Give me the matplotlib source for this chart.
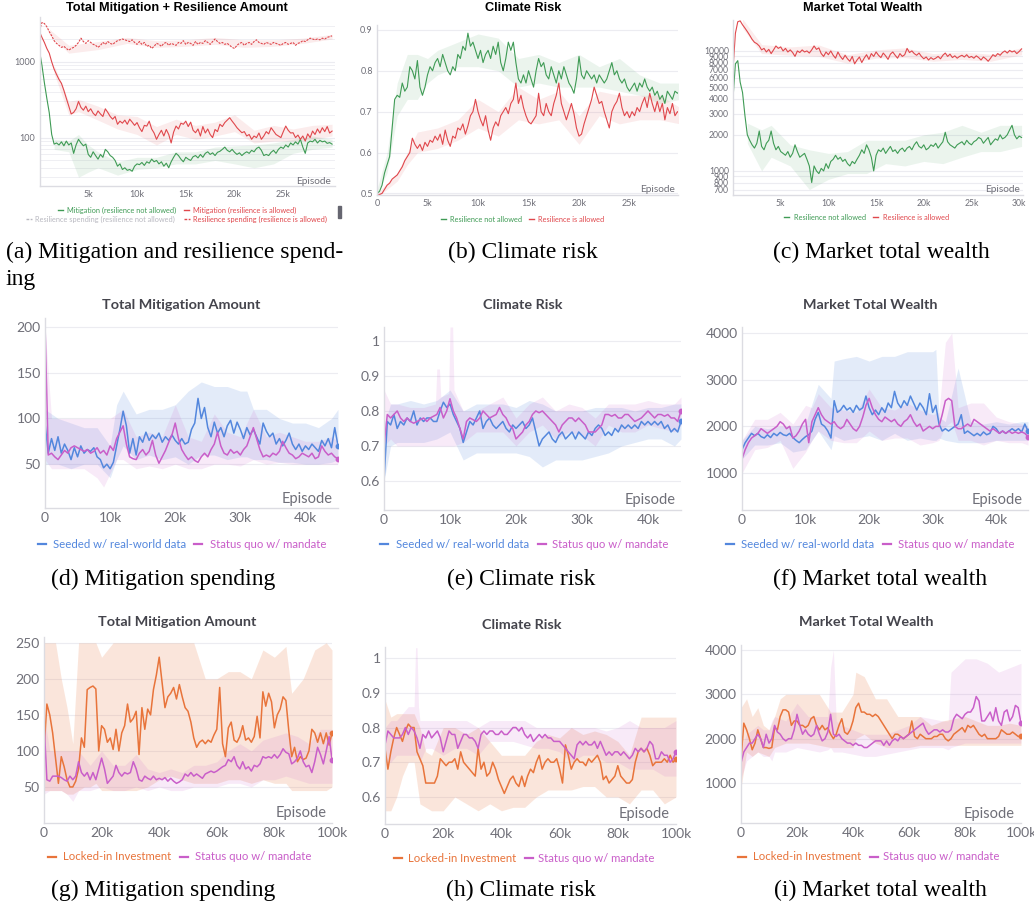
import numpy as np
import matplotlib
matplotlib.use('Agg')
import matplotlib.pyplot as plt
from matplotlib.lines import Line2D
from matplotlib.ticker import FixedLocator, NullFormatter, FuncFormatter

W, H = 1034, 909

# ---------------- data ----------------
# row 1: 0.25k episode grid
a_green = [1400, 900, 530, 330, 213, 110, 82, 85, 80, 88, 78, 90, 80, 85, 62, 80, 95, 85, 78, 82,
           60, 55, 65, 58, 52, 60, 55, 70, 65, 58, 55, 50, 42, 45, 38, 40, 37, 38, 36, 42,
           45, 44, 47, 43, 48, 46, 52, 48, 50, 45, 48, 42, 46, 40, 48, 55, 62, 58, 52, 48,
           55, 52, 50, 56, 58, 54, 60, 55, 62, 65, 60, 63, 58, 64, 66, 70, 75, 68, 65, 70,
           64, 60, 63, 58, 62, 65, 62, 68, 65, 72, 75, 68, 58, 60, 58, 64, 68, 62, 70, 75,
           72, 80, 75, 85, 80, 88, 82, 95, 75, 62, 85, 90, 88, 95, 85, 92, 88, 90, 84, 86, 82]
a_red = [2500, 2100, 1800, 1500, 1300, 1000, 800, 680, 585, 520, 420, 330, 261, 205, 215, 240, 300, 250, 230, 260,
         220, 240, 210, 195, 225, 205, 190, 240, 215, 190, 175, 190, 150, 165, 155, 170, 150, 175, 160, 145,
         158, 135, 120, 145, 142, 165, 130, 115, 95, 110, 125, 105, 128, 110, 85, 118, 142, 130, 155, 150,
         165, 140, 160, 125, 116, 130, 105, 140, 115, 130, 110, 100, 128, 120, 150, 140, 158, 170, 183, 165,
         150, 135, 125, 116, 120, 105, 110, 95, 105, 100, 115, 95, 105, 120, 112, 135, 122, 110, 105, 100,
         120, 142, 125, 115, 116, 100, 108, 95, 105, 90, 112, 100, 122, 110, 130, 115, 135, 120, 140, 115, 122]
a_red_res = [2600, 3300, 3200, 2900, 2500, 2200, 1900, 1750, 1650, 1550, 1600, 1500, 1420, 1500, 1550, 1650, 1800, 2050, 1850, 1750,
             1900, 1800, 1700, 1650, 1550, 1650, 1800, 1700, 1850, 1750, 1700, 1800, 1900, 1950, 2000, 1950, 1900, 1850, 1950, 1800,
             1700, 1850, 1700, 1800, 1600, 1650, 1500, 1600, 1750, 1700, 1600, 1750, 1800, 1650, 1750, 1700, 1650, 1800, 1750, 1900,
             1700, 1800, 1750, 1650, 1850, 1700, 1800, 1750, 1900, 1800, 1700, 1850, 2000, 1850, 1750, 1800, 1700, 1750, 1650, 1550,
             1500, 1650, 1750, 1800, 1650, 1750, 1800, 1700, 1850, 1950, 1800, 1750, 1700, 1800, 1750, 1700, 1800, 1750, 1700, 1650,
             1750, 1800, 1700, 1750, 1800, 1650, 1750, 1800, 1900, 1850, 1950, 2050, 2000, 1950, 2000, 1950, 2050, 2000, 2100, 2150, 2200]
a_green_bx = [1.5, 3, 4, 5, 6, 8, 10, 12, 14, 16, 18, 20, 22, 24, 26, 28, 30]
a_green_lo = [70, 65, 30, 35, 40, 32, 38, 40, 45, 45, 50, 45, 40, 45, 62, 70, 75]
a_green_hi = [95, 90, 110, 80, 65, 48, 55, 55, 65, 65, 75, 78, 80, 85, 95, 105, 95]
a_red_bx = [1.5, 3, 4, 6, 8, 10, 12, 14, 16, 18, 20, 22, 24, 26, 28, 30]
a_red_lo = [700, 200, 220, 170, 130, 110, 80, 110, 95, 105, 120, 85, 90, 90, 95, 105]
a_red_hi = [900, 300, 320, 260, 200, 190, 140, 175, 145, 160, 200, 125, 145, 130, 145, 150]
a_res_bx = [1, 3, 6, 9, 12, 15, 18, 21, 24, 27, 30]
a_res_lo = [2300, 1300, 1450, 1750, 1550, 1600, 1700, 1550, 1600, 1750, 2000]
a_res_hi = [2700, 1650, 1850, 2100, 1900, 1950, 2100, 1950, 1950, 2050, 2300]

b_green = [0.500, 0.505, 0.52, 0.55, 0.57, 0.59, 0.66, 0.73, 0.74, 0.735, 0.77, 0.75, 0.76, 0.81, 0.80, 0.78, 0.825, 0.76, 0.74, 0.76,
           0.79, 0.81, 0.80, 0.82, 0.83, 0.81, 0.84, 0.82, 0.80, 0.79, 0.81, 0.80, 0.84, 0.83, 0.86, 0.85, 0.892, 0.86, 0.87, 0.85,
           0.83, 0.85, 0.82, 0.84, 0.85, 0.83, 0.86, 0.84, 0.87, 0.82, 0.80, 0.83, 0.87, 0.85, 0.87, 0.82, 0.78, 0.77, 0.79, 0.77,
           0.80, 0.78, 0.76, 0.80, 0.83, 0.81, 0.82, 0.79, 0.78, 0.81, 0.79, 0.77, 0.80, 0.78, 0.81, 0.79, 0.77, 0.76, 0.745, 0.78,
           0.835, 0.79, 0.78, 0.80, 0.79, 0.78, 0.79, 0.77, 0.79, 0.78, 0.77, 0.78, 0.80, 0.82, 0.79, 0.80, 0.78, 0.77, 0.78, 0.76,
           0.75, 0.76, 0.77, 0.75, 0.77, 0.76, 0.78, 0.76, 0.75, 0.76, 0.74, 0.75, 0.73, 0.74, 0.72, 0.75, 0.74, 0.73, 0.75, 0.745, 0.75]
b_red = [0.495, 0.497, 0.50, 0.51, 0.52, 0.525, 0.535, 0.54, 0.545, 0.555, 0.565, 0.58, 0.59, 0.60, 0.635, 0.62, 0.61, 0.62, 0.605, 0.625,
         0.615, 0.63, 0.625, 0.64, 0.63, 0.645, 0.62, 0.655, 0.63, 0.615, 0.64, 0.635, 0.66, 0.655, 0.67, 0.645, 0.665, 0.69, 0.70, 0.73,
         0.70, 0.68, 0.665, 0.69, 0.655, 0.63, 0.66, 0.675, 0.665, 0.69, 0.70, 0.71, 0.695, 0.72, 0.73, 0.77, 0.72, 0.74, 0.71, 0.69,
         0.675, 0.67, 0.68, 0.69, 0.745, 0.70, 0.69, 0.72, 0.70, 0.69, 0.72, 0.74, 0.77, 0.72, 0.70, 0.68, 0.70, 0.72, 0.695, 0.66,
         0.64, 0.645, 0.67, 0.69, 0.71, 0.73, 0.76, 0.74, 0.72, 0.725, 0.70, 0.68, 0.66, 0.70, 0.715, 0.725, 0.745, 0.71, 0.69, 0.70,
         0.685, 0.70, 0.69, 0.71, 0.70, 0.72, 0.735, 0.71, 0.745, 0.72, 0.70, 0.725, 0.70, 0.72, 0.68, 0.71, 0.695, 0.72, 0.69, 0.70, 0.695]
b_green_bx = [0, 1, 2, 3, 4, 5, 6, 8, 10, 12, 14, 16, 18, 20, 22, 24, 26, 28, 30]
b_green_lo = [0.50, 0.55, 0.69, 0.73, 0.73, 0.77, 0.79, 0.81, 0.81, 0.80, 0.76, 0.77, 0.76, 0.76, 0.76, 0.75, 0.74, 0.72, 0.73]
b_green_hi = [0.51, 0.60, 0.77, 0.84, 0.84, 0.83, 0.85, 0.87, 0.89, 0.88, 0.83, 0.84, 0.82, 0.84, 0.81, 0.83, 0.79, 0.77, 0.77]
b_red_bx = [0, 2, 3, 4, 6, 8, 10, 12, 14, 16, 18, 20, 22, 24, 26, 28, 30]
b_red_lo = [0.49, 0.53, 0.57, 0.60, 0.61, 0.63, 0.66, 0.64, 0.68, 0.67, 0.68, 0.62, 0.69, 0.67, 0.68, 0.68, 0.67]
b_red_hi = [0.50, 0.55, 0.60, 0.65, 0.66, 0.68, 0.73, 0.70, 0.76, 0.73, 0.75, 0.69, 0.75, 0.74, 0.74, 0.74, 0.71]

c_green = [4000, 7800, 8300, 5500, 4500, 2900, 2000, 1800, 1650, 1550, 1700, 2150, 1600, 1500, 1700, 1800, 2150, 1700, 1500, 1600,
           1450, 1400, 1350, 1450, 1300, 1400, 1650, 1450, 1300, 1350, 1400, 1250, 1100, 800, 1100, 1000, 950, 1050, 1000, 1150,
           1050, 1200, 1250, 1350, 1250, 1300, 1200, 1250, 1150, 1100, 1200, 1150, 1250, 1350, 1500, 1400, 1650, 1500, 1300, 1000,
           1350, 1500, 1450, 1550, 1400, 1500, 1600, 1450, 1500, 1400, 1500, 1550, 1450, 1550, 1600, 1500, 1650, 1750, 1600, 1550,
           1650, 1500, 1550, 1650, 1600, 1700, 1550, 1650, 1750, 2100, 1750, 1650, 1600, 1550, 1650, 1700, 1750, 1650, 1800, 1700,
           1650, 1750, 1800, 1900, 1850, 1700, 1800, 1900, 1650, 1750, 1850, 1800, 2000, 1850, 1900, 2000, 2200, 2400, 2000, 1850, 1950, 1900]
c_red = [7000, 14000, 17500, 17800, 16500, 15500, 14500, 13500, 12500, 11800, 11500, 11000, 10200, 10500, 9800, 10300, 9500, 10200, 11000, 10500,
         10800, 10000, 10500, 9800, 10200, 9700, 9000, 10000, 9700, 10200, 9800, 10000, 9600, 10200, 11000, 10300, 10600, 9500, 9000, 9800,
         9300, 10000, 9200, 8700, 9800, 9000, 8500, 9200, 8600, 8200, 9000, 7800, 8400, 8900, 8000, 8700, 9300, 8500, 9500, 9000,
         9800, 9200, 8800, 9600, 9100, 8500, 9400, 9800, 9200, 8700, 9500, 9000, 9300, 10500, 9700, 10000, 9500, 9200, 9600, 9000,
         8600, 8900, 8400, 8800, 8500, 8700, 9000, 8600, 9200, 9600, 9000, 9400, 8800, 9100, 8700, 9000, 9200, 8900, 9300, 8800,
         9000, 8700, 9100, 8800, 8400, 8900, 8600, 8200, 8700, 9300, 9000, 9500, 9200, 9700, 10000, 9600, 10100, 9800, 10000, 9500, 9900, 10400]
c_green_bx = [1.5, 3, 4, 6, 8, 10, 12, 14, 16, 18, 20, 22, 24, 26, 28, 30.25]
c_green_lo = [1700, 1000, 1300, 1100, 700, 850, 950, 950, 1150, 1100, 1200, 1150, 1300, 1450, 1450, 1600]
c_green_hi = [2500, 2200, 2400, 1650, 1500, 1400, 1450, 1800, 1800, 1800, 2000, 2100, 2400, 2100, 2400, 2400]
c_red_bx = [1, 3, 6, 9, 12, 15, 18, 21, 24, 27, 30.25]
c_red_lo = [15500, 9500, 9200, 9000, 7900, 8700, 8800, 8200, 8500, 8200, 9300]
c_red_hi = [18500, 11300, 10800, 11200, 9300, 10200, 10600, 9500, 9800, 9400, 10600]

# row 2: 0.5k episode grid, 0..45k
d_blue = [95, 62, 78, 65, 80, 62, 72, 65, 55, 68, 58, 70, 62, 66, 64, 68, 58, 55, 46, 50,
          45, 52, 70, 88, 108, 92, 62, 78, 60, 80, 74, 85, 76, 82, 78, 84, 74, 80, 76, 82,
          76, 72, 78, 72, 74, 88, 95, 122, 100, 112, 90, 80, 96, 84, 90, 80, 92, 98, 84, 96,
          88, 78, 90, 82, 88, 80, 72, 95, 86, 80, 84, 72, 78, 70, 76, 84, 72, 66, 72, 64,
          70, 66, 72, 68, 64, 76, 70, 78, 68, 90, 70]
d_mag = [205, 60, 62, 58, 55, 60, 65, 62, 68, 70, 68, 66, 64, 66, 62, 64, 68, 62, 65, 60,
         70, 65, 78, 85, 92, 72, 58, 56, 55, 62, 66, 60, 64, 76, 60, 51, 58, 65, 74, 82,
         95, 78, 66, 60, 55, 58, 54, 52, 58, 62, 58, 66, 72, 85, 70, 62, 60, 66, 62, 64,
         60, 66, 70, 80, 90, 78, 66, 58, 60, 58, 62, 60, 64, 75, 68, 62, 60, 56, 58, 62,
         60, 58, 62, 56, 58, 70, 64, 60, 62, 58, 56]
d_blue_bx = [0, 2, 4, 6, 8, 10, 11, 12, 14, 16, 18, 20, 22, 24, 26, 28, 30, 31, 32, 34, 36, 38, 40, 42, 44, 45]
d_blue_lo = [50, 50, 45, 50, 50, 35, 55, 70, 55, 60, 55, 58, 50, 60, 60, 55, 58, 58, 55, 55, 52, 52, 50, 50, 52, 55]
d_blue_hi = [110, 100, 95, 90, 90, 70, 115, 130, 105, 110, 110, 115, 130, 140, 135, 135, 130, 130, 110, 110, 100, 95, 95, 90, 100, 110]
d_mag_bx = [0, 1, 2, 4, 6, 8, 9, 10, 11, 12, 14, 16, 18, 20, 22, 24, 26, 28, 30, 32, 34, 36, 38, 40, 42, 44, 45]
d_mag_lo = [55, 45, 45, 45, 45, 35, 25, 40, 55, 55, 45, 48, 45, 50, 45, 45, 50, 50, 48, 55, 50, 52, 50, 50, 50, 50, 50]
d_mag_hi = [200, 100, 100, 100, 100, 100, 100, 100, 105, 110, 80, 85, 80, 115, 80, 75, 105, 85, 80, 110, 80, 85, 80, 75, 75, 80, 75]

e_blue = [0.60, 0.77, 0.76, 0.79, 0.75, 0.77, 0.76, 0.78, 0.77, 0.80, 0.76, 0.78, 0.77, 0.78, 0.78, 0.77, 0.77, 0.80, 0.825, 0.81,
          0.82, 0.79, 0.77, 0.75, 0.71, 0.74, 0.77, 0.76, 0.78, 0.80, 0.75, 0.77, 0.78, 0.76, 0.75, 0.76, 0.77, 0.75, 0.74, 0.76,
          0.75, 0.76, 0.77, 0.75, 0.76, 0.78, 0.74, 0.70, 0.72, 0.73, 0.74, 0.72, 0.71, 0.73, 0.74, 0.72, 0.73, 0.74, 0.72, 0.74,
          0.73, 0.72, 0.74, 0.73, 0.75, 0.76, 0.75, 0.73, 0.74, 0.73, 0.75, 0.74, 0.76, 0.75, 0.76, 0.75, 0.76, 0.75, 0.77, 0.76,
          0.77, 0.76, 0.77, 0.76, 0.77, 0.75, 0.76, 0.74, 0.75, 0.74, 0.77]
e_mag = [0.70, 0.79, 0.78, 0.79, 0.80, 0.78, 0.77, 0.78, 0.77, 0.765, 0.77, 0.775, 0.78, 0.77, 0.78, 0.785, 0.79, 0.81, 0.78, 0.80,
         0.835, 0.80, 0.78, 0.75, 0.72, 0.77, 0.78, 0.775, 0.77, 0.78, 0.80, 0.79, 0.78, 0.785, 0.79, 0.81, 0.79, 0.78, 0.76, 0.75,
         0.72, 0.73, 0.74, 0.76, 0.77, 0.79, 0.80, 0.795, 0.80, 0.79, 0.78, 0.77, 0.76, 0.74, 0.76, 0.77, 0.78, 0.78, 0.77, 0.78,
         0.77, 0.76, 0.74, 0.74, 0.74, 0.75, 0.76, 0.79, 0.79, 0.785, 0.79, 0.78, 0.78, 0.79, 0.79, 0.78, 0.77, 0.775, 0.78, 0.79,
         0.80, 0.79, 0.78, 0.79, 0.79, 0.785, 0.79, 0.78, 0.78, 0.77, 0.80]
e_blue_bx = [0, 1, 2, 4, 6, 8, 10, 12, 14, 16, 18, 20, 22, 24, 26, 28, 30, 32, 34, 36, 38, 40, 42, 44, 45]
e_blue_lo = [0.60, 0.70, 0.71, 0.71, 0.71, 0.72, 0.74, 0.66, 0.68, 0.68, 0.68, 0.68, 0.67, 0.64, 0.66, 0.66, 0.66, 0.67, 0.68, 0.70, 0.71, 0.72, 0.72, 0.70, 0.72]
e_blue_hi = [0.76, 0.82, 0.82, 0.83, 0.82, 0.83, 0.86, 0.80, 0.82, 0.82, 0.82, 0.81, 0.83, 0.82, 0.80, 0.80, 0.80, 0.81, 0.81, 0.81, 0.80, 0.81, 0.81, 0.82, 0.82]
e_mag_bx = [0, 1, 2, 4, 6, 7.8, 8, 8.4, 8.6, 9.8, 10, 10.4, 10.6, 12, 14, 16, 18, 20, 22, 24, 26, 28, 30, 32, 34, 36, 38, 40, 42, 44, 45]
e_mag_lo = [0.70, 0.72, 0.70, 0.70, 0.70, 0.70, 0.70, 0.70, 0.70, 0.70, 0.70, 0.70, 0.70, 0.71, 0.74, 0.74, 0.74, 0.70, 0.74, 0.76, 0.72, 0.74, 0.73, 0.70, 0.76, 0.74, 0.74, 0.76, 0.75, 0.74, 0.76]
e_mag_hi = [0.86, 0.82, 0.82, 0.81, 0.81, 0.82, 0.92, 0.92, 0.84, 0.85, 1.04, 1.04, 0.86, 0.80, 0.80, 0.82, 0.84, 0.78, 0.82, 0.84, 0.80, 0.82, 0.81, 0.78, 0.82, 0.82, 0.82, 0.83, 0.82, 0.82, 0.84]

f_blue = [1500, 1650, 1750, 1850, 1800, 1850, 1780, 1750, 1820, 1760, 1850, 1800, 1870, 1820, 1800, 1850, 1760, 1700, 1650, 1720,
          1780, 1820, 1900, 2150, 2300, 2050, 2000, 1900, 1750, 2550, 2300, 2350, 2450, 2350, 2400, 2300, 2450, 2350, 2400, 2650,
          2400, 2250, 2350, 2250, 2400, 2300, 2500, 2400, 2750, 2500, 2400, 2550, 2450, 2650, 2500, 2350, 2500, 2400, 2250, 2700,
          2300, 2450, 2050, 1900, 1950, 1900, 1950, 2000, 2050, 2250, 1850, 1900, 1850, 1800, 1850, 1800, 1880, 1820, 1850, 2000,
          1950, 1850, 1900, 1850, 1900, 1950, 1900, 1950, 1880, 2050, 1900]
f_mag = [1300, 1500, 1650, 1750, 1800, 1850, 1950, 1900, 1850, 1900, 1950, 2000, 2100, 2050, 1950, 2000, 1750, 1800, 1900, 2050,
         2150, 1650, 2100, 2250, 2400, 2250, 2150, 2100, 2050, 2100, 2000, 1950, 2000, 2150, 2050, 1950, 1900, 2000, 2200, 2450,
         2600, 2400, 2250, 2150, 2100, 2200, 2150, 2100, 2150, 2050, 2000, 2100, 2150, 2250, 2100, 2000, 2050, 1900, 1950, 2000,
         1950, 2000, 2000, 2250, 2550, 2600, 2550, 2000, 1950, 1950, 2000, 2050, 2000, 2150, 2100, 2050, 2000, 1950, 1900, 1950,
         1900, 1850, 1900, 1850, 1900, 1850, 1880, 1850, 1880, 1850, 1780]
f_blue_bx = [0, 2, 4, 6, 8, 10, 12, 14, 14.5, 16, 18, 20, 22, 24, 26, 28, 30, 30.5, 31, 32, 34, 36, 38, 40, 42, 44, 45]
f_blue_lo = [1300, 1600, 1600, 1650, 1450, 1500, 1900, 1500, 1800, 1700, 1750, 1800, 1700, 1850, 1700, 1750, 1700, 1700, 1750, 1700, 1650, 1650, 1650, 1700, 1700, 1700, 1700]
f_blue_hi = [1700, 2000, 1950, 2000, 2000, 2050, 2900, 2600, 3400, 3450, 3500, 3400, 3500, 3500, 3600, 3600, 3600, 3650, 2200, 2100, 3250, 2100, 2050, 2100, 2050, 2100, 2100]
f_mag_bx = [0, 2, 4, 6, 8, 10, 11, 12, 14, 16, 18, 20, 22, 24, 26, 28, 30, 31, 32, 33, 34, 36, 38, 40, 42, 44, 45]
f_mag_lo = [1000, 1500, 1550, 1700, 1100, 1450, 1700, 1900, 1700, 1650, 1650, 1900, 1700, 1750, 1750, 1600, 1650, 1700, 2000, 2100, 1700, 1700, 1600, 1700, 1650, 1650, 1600]
f_mag_hi = [1700, 2150, 2150, 2300, 2050, 2450, 2400, 2700, 2400, 2350, 2300, 2800, 2400, 2350, 2500, 2350, 2250, 2300, 3800, 4000, 2400, 2500, 2500, 2200, 2100, 2050, 2000]

# row 3: 1k episode grid, 0..100k
g_orange = [100, 165, 150, 125, 90, 55, 92, 78, 60, 50, 50, 58, 75, 118, 105, 185, 188, 190, 186, 100,
            135, 130, 112, 118, 102, 130, 100, 125, 135, 165, 140, 145, 155, 95, 160, 130, 158, 150, 185, 205,
            230, 195, 160, 175, 180, 188, 172, 192, 175, 160, 155, 140, 118, 105, 112, 115, 110, 115, 112, 122,
            130, 188, 110, 92, 132, 140, 115, 112, 120, 135, 115, 118, 112, 120, 148, 118, 182, 162, 180, 168,
            132, 150, 158, 175, 170, 128, 92, 105, 85, 92, 88, 90, 100, 130, 125, 112, 125, 110, 125, 108, 125]
g_mag = [140, 60, 58, 65, 65, 65, 63, 60, 58, 65, 60, 65, 85, 70, 65, 70, 60, 70, 60, 75,
         90, 75, 55, 60, 65, 80, 70, 65, 70, 68, 70, 85, 75, 60, 58, 65, 62, 60, 65, 60,
         62, 60, 63, 58, 62, 58, 55, 57, 60, 68, 65, 70, 65, 68, 65, 62, 68, 70, 72, 70,
         72, 75, 78, 80, 88, 85, 92, 80, 75, 85, 75, 78, 72, 80, 78, 82, 92, 90, 92, 90,
         95, 90, 95, 103, 98, 96, 82, 85, 90, 100, 85, 78, 80, 70, 85, 105, 95, 82, 100, 120, 88]
g_orange_bx = [0, 2, 4, 6, 8, 10, 12, 14, 16, 18, 20, 24, 28, 32, 36, 40, 44, 48, 52, 56, 60, 64, 68, 72, 76, 80, 84, 86, 90, 94, 98, 100]
g_orange_lo = [45, 45, 45, 45, 40, 40, 45, 50, 50, 55, 45, 45, 45, 45, 50, 60, 65, 60, 55, 55, 55, 60, 60, 55, 60, 55, 55, 45, 45, 45, 45, 50]
g_orange_hi = [250, 250, 250, 200, 160, 110, 250, 250, 250, 250, 230, 250, 250, 250, 250, 250, 250, 250, 250, 200, 200, 210, 210, 200, 240, 230, 245, 180, 200, 240, 250, 240]
g_mag_bx = [0, 2, 4, 6, 8, 10, 12, 16, 20, 24, 28, 32, 36, 40, 44, 48, 52, 56, 60, 64, 68, 72, 76, 80, 84, 88, 92, 96, 100]
g_mag_lo = [40, 45, 45, 45, 40, 30, 45, 45, 50, 45, 45, 50, 45, 50, 45, 45, 50, 50, 50, 55, 55, 50, 60, 60, 65, 60, 55, 55, 55]
g_mag_hi = [150, 100, 100, 100, 100, 100, 100, 80, 100, 80, 80, 95, 75, 70, 75, 70, 80, 80, 85, 100, 110, 100, 115, 120, 125, 120, 110, 130, 130]

h_orange = [0.74, 0.68, 0.73, 0.77, 0.80, 0.78, 0.76, 0.79, 0.81, 0.80, 0.80, 0.73, 0.71, 0.69, 0.64, 0.64, 0.64, 0.64, 0.66, 0.71,
            0.70, 0.69, 0.70, 0.70, 0.71, 0.68, 0.73, 0.70, 0.69, 0.68, 0.67, 0.66, 0.74, 0.68, 0.70, 0.66, 0.67, 0.70, 0.68, 0.65,
            0.63, 0.61, 0.63, 0.65, 0.66, 0.64, 0.63, 0.66, 0.63, 0.66, 0.68, 0.67, 0.70, 0.72, 0.68, 0.70, 0.71, 0.70, 0.70, 0.71,
            0.68, 0.64, 0.75, 0.72, 0.68, 0.70, 0.71, 0.70, 0.70, 0.69, 0.71, 0.70, 0.71, 0.72, 0.70, 0.65, 0.66, 0.64, 0.65, 0.66,
            0.69, 0.66, 0.65, 0.64, 0.64, 0.65, 0.70, 0.73, 0.74, 0.73, 0.74, 0.72, 0.69, 0.70, 0.70, 0.70, 0.71, 0.70, 0.72, 0.70, 0.71]
h_mag = [0.75, 0.79, 0.78, 0.77, 0.77, 0.77, 0.78, 0.80, 0.78, 0.80, 0.79, 0.77, 0.74, 0.78, 0.77, 0.79, 0.77, 0.78, 0.79, 0.77,
         0.73, 0.76, 0.79, 0.78, 0.78, 0.74, 0.76, 0.78, 0.78, 0.77, 0.77, 0.76, 0.74, 0.78, 0.79, 0.78, 0.79, 0.79, 0.78, 0.78,
         0.79, 0.78, 0.78, 0.79, 0.80, 0.80, 0.79, 0.80, 0.78, 0.77, 0.78, 0.76, 0.77, 0.78, 0.77, 0.78, 0.77, 0.77, 0.76, 0.76,
         0.76, 0.75, 0.74, 0.73, 0.72, 0.71, 0.75, 0.76, 0.75, 0.76, 0.75, 0.75, 0.76, 0.74, 0.76, 0.74, 0.72, 0.73, 0.72, 0.73,
         0.73, 0.72, 0.73, 0.72, 0.71, 0.72, 0.74, 0.73, 0.74, 0.73, 0.74, 0.76, 0.75, 0.71, 0.71, 0.73, 0.72, 0.72, 0.70, 0.71, 0.73]
h_orange_bx = [0, 2, 4, 6, 8, 10, 12, 14, 16, 20, 24, 28, 32, 36, 40, 44, 48, 52, 56, 60, 64, 68, 72, 76, 80, 84, 88, 92, 96, 100]
h_orange_lo = [0.56, 0.56, 0.60, 0.66, 0.70, 0.70, 0.58, 0.57, 0.56, 0.56, 0.60, 0.58, 0.56, 0.58, 0.56, 0.57, 0.57, 0.60, 0.62, 0.62, 0.62, 0.63, 0.63, 0.60, 0.60, 0.58, 0.62, 0.62, 0.58, 0.60]
h_orange_hi = [0.88, 0.83, 0.84, 0.84, 0.84, 0.84, 0.80, 0.73, 0.72, 0.80, 0.80, 0.78, 0.80, 0.76, 0.72, 0.72, 0.72, 0.76, 0.78, 0.77, 0.80, 0.78, 0.79, 0.78, 0.76, 0.72, 0.83, 0.83, 0.83, 0.83]
h_mag_bx = [0, 2, 4, 6, 8, 10, 10.5, 11, 11.5, 12, 14, 16, 20, 24, 28, 32, 36, 40, 44, 48, 52, 56, 60, 64, 68, 72, 76, 80, 84, 88, 92, 96, 100]
h_mag_lo = [0.70, 0.70, 0.72, 0.72, 0.72, 0.72, 0.72, 0.72, 0.72, 0.70, 0.74, 0.74, 0.72, 0.74, 0.74, 0.72, 0.76, 0.76, 0.76, 0.75, 0.74, 0.74, 0.73, 0.70, 0.72, 0.72, 0.70, 0.70, 0.68, 0.68, 0.68, 0.66, 0.66]
h_mag_hi = [0.80, 0.82, 0.82, 0.84, 0.86, 0.86, 1.03, 1.03, 0.86, 0.82, 0.82, 0.82, 0.82, 0.82, 0.82, 0.80, 0.82, 0.82, 0.82, 0.82, 0.80, 0.80, 0.80, 0.80, 0.80, 0.80, 0.79, 0.80, 0.82, 0.80, 0.80, 0.80, 0.82]

i_orange = [1500, 2350, 2200, 2000, 1750, 1900, 2200, 2000, 1800, 1800, 1780, 1800, 2250, 2200, 2500, 2650, 2650, 2600, 2300, 2400,
            2400, 2300, 2300, 2250, 2300, 2450, 2500, 2300, 2200, 2300, 2200, 2250, 2100, 2000, 2100, 2300, 2450, 2150, 2100, 2200,
            2400, 2700, 2800, 2600, 2600, 2550, 2550, 2500, 2550, 2500, 2400, 2300, 2200, 2100, 2000, 2100, 2100, 2050, 2000, 2050,
            2100, 2400, 2050, 2000, 2100, 2050, 2000, 2000, 2000, 2050, 2050, 2100, 2100, 2000, 1950, 2000, 2100, 2150, 2200, 2250,
            2150, 2300, 2250, 2300, 2200, 2100, 2050, 2100, 2000, 2000, 2000, 2000, 2050, 2200, 2150, 2100, 2100, 2150, 2100, 2050, 2050]
i_mag = [1450, 1700, 1800, 1900, 1900, 2000, 2100, 2000, 1800, 2100, 1900, 2000, 2300, 2150, 2100, 2000, 1950, 2000, 2000, 2200,
         2550, 2300, 2100, 2200, 2100, 2050, 2100, 2300, 2100, 1950, 2000, 2150, 2550, 2100, 2050, 2100, 2000, 1950, 1900, 1900,
         1850, 1900, 1850, 1850, 1800, 1800, 1850, 1900, 1950, 1950, 1950, 1850, 1950, 1850, 1950, 2000, 1950, 2050, 2000, 2050,
         2100, 2150, 2200, 2250, 2300, 2350, 2200, 2100, 2150, 2200, 2200, 2150, 2200, 2150, 2150, 2200, 2450, 2550, 2500, 2450,
         2550, 2600, 2600, 2700, 2950, 2850, 2400, 2400, 2500, 2600, 2400, 2700, 2400, 2300, 2600, 2650, 2400, 2500, 2750, 2700, 2350]
i_orange_bx = [0, 2, 4, 6, 8, 10, 12, 14, 16, 20, 24, 28, 32, 36, 40, 41, 44, 48, 52, 56, 60, 64, 68, 72, 76, 80, 84, 88, 92, 96, 100]
i_orange_lo = [900, 1700, 1600, 1700, 1650, 1600, 1800, 1850, 1900, 1900, 1900, 1850, 1800, 1800, 1800, 2000, 2100, 1900, 1800, 1800, 1800, 1850, 1850, 1850, 1850, 1850, 1850, 1850, 1850, 1850, 1850]
i_orange_hi = [2700, 2900, 2500, 2700, 2300, 2200, 2500, 2900, 3000, 3000, 3000, 3000, 2600, 2600, 3000, 3500, 3400, 2900, 2900, 2500, 2500, 2500, 2300, 2400, 2450, 2500, 2400, 2300, 2300, 2350, 2300]
i_mag_bx = [0, 2, 4, 6, 8, 10, 11, 12, 16, 20, 24, 28, 31, 32, 33, 34, 36, 40, 44, 48, 52, 56, 60, 64, 68, 72, 74, 75, 80, 84, 88, 92, 96, 100]
i_mag_lo = [1100, 1500, 1600, 1700, 1600, 1600, 1500, 1700, 1700, 1800, 1750, 1700, 1750, 1800, 1700, 1700, 1700, 1650, 1600, 1600, 1650, 1700, 1750, 1800, 1800, 1800, 1750, 1800, 1900, 1900, 1900, 1900, 1900, 1900]
i_mag_hi = [1800, 2100, 2200, 2300, 2200, 2200, 2400, 2500, 2400, 2800, 2500, 2500, 2500, 3600, 4000, 2400, 2300, 2200, 2100, 2100, 2100, 2200, 2300, 2500, 2450, 2400, 2400, 3500, 3800, 3800, 3700, 3500, 3600, 3700]

GREEN, RED, GREY = '#3f9b55', '#e0474c', '#b8b8c0'
BLUE, MAG, ORANGE = '#5387dd', '#c95ec9', '#e8743b'
TICK_C, GRID_C = '#6f6f78', '#ececf1'
WB_FONT = 'Lato'

fig = plt.figure(figsize=(W / 100, H / 100), dpi=100)


def px_axes(l, t, r, b):
    return fig.add_axes([l / W, 1 - b / H, (r - l) / W, (b - t) / H])


def ftext(x, y, s, **kw):
    fig.text(x / W, 1 - y / H, s, **kw)


def handle(x0, x1, y, color, ls='-', lw=1.2):
    fig.add_artist(Line2D([x0 / W, x1 / W], [1 - y / H] * 2, color=color, lw=lw, ls=ls,
                          transform=fig.transFigure))


def kfmt(v, _):
    return '0' if v == 0 else f'{int(round(v / 1000))}k'


def style(ax, xticks, yticks, fs, ylabels=None):
    for s in ['top', 'right']:
        ax.spines[s].set_visible(False)
    for s in ['left', 'bottom']:
        ax.spines[s].set_color('#dcdce2')
        ax.spines[s].set_linewidth(1.0)
    ax.set_xticks(xticks)
    ax.xaxis.set_major_formatter(FuncFormatter(kfmt))
    ax.set_yticks(yticks)
    if ylabels is not None:
        ax.set_yticklabels(ylabels)
    ax.tick_params(length=0, labelsize=fs, colors=TICK_C, pad=3)
    for lab in ax.get_xticklabels() + ax.get_yticklabels():
        lab.set_fontfamily(WB_FONT)
    ax.grid(axis='y', color=GRID_C, lw=0.8)
    ax.set_axisbelow(True)


def series(ax, x, y, bx, lo, hi, color, lw, ls='-', alpha=0.15, dot=True):
    ax.fill_between(np.array(bx) * 1000, lo, hi, color=color, alpha=alpha, lw=0)
    ax.plot(x, y, color=color, lw=lw, ls=ls)
    if dot:
        ax.plot(x[-1], y[-1], 'o', color=color, ms=3.2)


x1 = np.arange(len(a_green)) * 250
xc = np.arange(len(c_green)) * 250
x2 = np.arange(len(d_blue)) * 500
x3 = np.arange(len(g_orange)) * 1000

# ---------- (a) ----------
ax = px_axes(39.5, 17, 335, 186)
ax.set_yscale('log')
series(ax, x1, a_green, a_green_bx, a_green_lo, a_green_hi, GREEN, 0.8, alpha=0.1, dot=False)
series(ax, x1, a_red, a_red_bx, a_red_lo, a_red_hi, RED, 0.8, alpha=0.1, dot=False)
series(ax, x1, a_red_res, a_res_bx, a_res_lo, a_res_hi, RED, 0.8, ls=(0, (2, 1)), alpha=0.1, dot=False)
ax.set_xlim(0, 30300)
ax.set_ylim(23, 3900)
style(ax, [5000, 10000, 15000, 20000, 25000], [100, 1000], 6.5, ['100', '1000'])
ax.yaxis.set_minor_locator(FixedLocator([v * m for m in (10, 100, 1000) for v in range(2, 10)]))
ax.yaxis.set_minor_formatter(NullFormatter())
ax.tick_params(which='minor', length=0)
ax.grid(axis='y', which='minor', color=GRID_C, lw=0.6)

# ---------- (b) ----------
ax = px_axes(377, 25, 678, 195)
series(ax, x1, b_green, b_green_bx, b_green_lo, b_green_hi, GREEN, 0.8, alpha=0.1, dot=False)
series(ax, x1, b_red, b_red_bx, b_red_lo, b_red_hi, RED, 0.8, alpha=0.1, dot=False)
ax.set_xlim(0, 29800)
ax.set_ylim(0.496, 0.912)
style(ax, [0, 5000, 10000, 15000, 20000, 25000], [0.5, 0.6, 0.7, 0.8, 0.9], 6.5,
      ['0.5', '0.6', '0.7', '0.8', '0.9'])

# ---------- (c) ----------
ax = px_axes(733, 20, 1023, 195)
ax.set_yscale('log')
series(ax, xc, c_green, c_green_bx, c_green_lo, c_green_hi, GREEN, 0.8, alpha=0.1, dot=False)
series(ax, xc, c_red, c_red_bx, c_red_lo, c_red_hi, RED, 0.8, alpha=0.1, dot=False)
ax.set_xlim(0, 30400)
ax.set_ylim(630, 18100)
c_ticks = [700, 800, 900, 1000, 2000, 3000, 4000, 5000, 6000, 7000, 8000, 9000, 10000]
style(ax, [5000, 10000, 15000, 20000, 25000, 30000], c_ticks, 6.2, [str(v) for v in c_ticks])
ax.yaxis.set_minor_formatter(NullFormatter())
ax.tick_params(which='minor', length=0)

# ---------- row 2 ----------
row2 = [
    ((45, 318, 338, 508), d_blue, d_mag, (d_blue_bx, d_blue_lo, d_blue_hi), (d_mag_bx, d_mag_lo, d_mag_hi),
     (2, 210), [50, 100, 150, 200], ['50', '100', '150', '200']),
    ((384, 327, 681, 510), e_blue, e_mag, (e_blue_bx, e_blue_lo, e_blue_hi), (e_mag_bx, e_mag_lo, e_mag_hi),
     (0.517, 1.04), [0.6, 0.7, 0.8, 0.9, 1.0], ['0.6', '0.7', '0.8', '0.9', '1']),
    ((742, 327, 1028, 510), f_blue, f_mag, (f_blue_bx, f_blue_lo, f_blue_hi), (f_mag_bx, f_mag_lo, f_mag_hi),
     (207, 4130), [1000, 2000, 3000, 4000], ['1000', '2000', '3000', '4000']),
]
for box, yb, ym, bb, bm, ylim, yt, yl in row2:
    ax = px_axes(*box)
    series(ax, x2, yb, *bb, BLUE, 1.1, alpha=0.16)
    series(ax, x2, ym, *bm, MAG, 1.1, alpha=0.13)
    ax.set_xlim(0, 45000)
    ax.set_ylim(*ylim)
    style(ax, [0, 10000, 20000, 30000, 40000], yt, 10, yl)

# ---------- row 3 ----------
row3 = [
    ((44, 637, 332, 823), g_orange, g_mag, (g_orange_bx, g_orange_lo, g_orange_hi), (g_mag_bx, g_mag_lo, g_mag_hi),
     (0, 258), [50, 100, 150, 200, 250], ['50', '100', '150', '200', '250']),
    ((385, 647, 676, 824), h_orange, h_mag, (h_orange_bx, h_orange_lo, h_orange_hi), (h_mag_bx, h_mag_lo, h_mag_hi),
     (0.522, 1.032), [0.6, 0.7, 0.8, 0.9, 1.0], ['0.6', '0.7', '0.8', '0.9', '1']),
    ((741, 645, 1021, 823), i_orange, i_mag, (i_orange_bx, i_orange_lo, i_orange_hi), (i_mag_bx, i_mag_lo, i_mag_hi),
     (98, 4113), [1000, 2000, 3000, 4000], ['1000', '2000', '3000', '4000']),
]
for box, yo, ym, bo, bm, ylim, yt, yl in row3:
    ax = px_axes(*box)
    series(ax, x3, yo, *bo, ORANGE, 1.1, alpha=0.18)
    series(ax, x3, ym, *bm, MAG, 1.1, alpha=0.13)
    ax.set_xlim(0, 100000)
    ax.set_ylim(*ylim)
    style(ax, [0, 20000, 40000, 60000, 80000, 100000], yt, 10, yl)

# ---------- titles ----------
for x, s in [(177, 'Total Mitigation + Resilience Amount'), (523, 'Climate Risk'), (863, 'Market Total Wealth')]:
    ftext(x, 8, s, ha='center', va='center', fontsize=9.2, fontweight='bold',
          family='Liberation Sans', color='black')
for (x, y), s in [((181, 305), 'Total Mitigation Amount'), ((523, 305), 'Climate Risk'),
                  ((870, 305), 'Market Total Wealth'), ((177, 622), 'Total Mitigation Amount'),
                  ((522, 625), 'Climate Risk'), ((866, 622), 'Market Total Wealth')]:
    ftext(x, y, s, ha='center', va='center', fontsize=10.4, fontweight='bold',
          family=WB_FONT, color='#44444c')

# "Episode" labels
for x, y, fs in [(331, 181, 7.3), (675, 190, 7.3), (1020, 189, 7.3),
                 (333, 499, 10.5), (676, 500, 10.5), (1023, 500, 10.5),
                 (327, 813, 10.5), (670, 814, 10.5), (1015, 814, 10.5)]:
    ftext(x, y, 'Episode', ha='right', va='center', fontsize=fs, family=WB_FONT, color=TICK_C)

# ---------- legends ----------
lf = dict(va='center', family=WB_FONT)
handle(58, 63, 210, GREEN, lw=1.0)
ftext(67, 210, 'Mitigation (resilience not allowed)', color=GREEN, fontsize=5.3, **lf)
handle(184, 189, 210, RED, lw=1.0)
ftext(193, 210, 'Mitigation (resilience is allowed)', color=RED, fontsize=5.3, **lf)
handle(26, 32, 219, GREY, ls=(0, (2, 1)), lw=1.0)
ftext(35, 219, 'Resilience spending (resilience not allowed)', color=GREY, fontsize=5.3, **lf)
handle(184, 190, 219, RED, ls=(0, (2, 1)), lw=1.0)
ftext(193, 219, 'Resilience spending (resilience is allowed)', color=RED, fontsize=5.3, **lf)
fig.add_artist(plt.Rectangle((338 / W, 1 - 218 / H), 3 / W, 12 / H, color='#666670',
                             transform=fig.transFigure))

handle(441, 446, 219, GREEN, lw=1.0)
ftext(450, 219, 'Resilience not allowed', color=GREEN, fontsize=5.3, **lf)
handle(529, 534, 219, RED, lw=1.0)
ftext(538, 219, 'Resilience is allowed', color=RED, fontsize=5.3, **lf)
handle(784, 789, 217, GREEN, lw=1.0)
ftext(794, 217, 'Resilience not allowed', color=GREEN, fontsize=5.3, **lf)
handle(873, 878, 217, RED, lw=1.0)
ftext(883, 217, 'Resilience is allowed', color=RED, fontsize=5.3, **lf)

for (hb, tb, hm, tm, y) in [(38, 53, 194, 210, 544), (380, 396, 538, 552, 544), (726, 741, 883, 898, 544)]:
    handle(hb, hb + 8, y, BLUE, lw=1.6)
    ftext(tb, y, 'Seeded w/ real-world data', color=BLUE, fontsize=8.2, **lf)
    handle(hm, hm + 8, y, MAG, lw=1.6)
    ftext(tm, y, 'Status quo w/ mandate', color=MAG, fontsize=8.2, **lf)
for (ho, to, hm, tm, y) in [(48, 63, 180, 195, 857), (394, 408, 525, 538, 858), (738, 753, 870, 883, 857)]:
    handle(ho, ho + 8, y, ORANGE, lw=1.6)
    ftext(to, y, 'Locked-in Investment', color=ORANGE, fontsize=8.2, **lf)
    handle(hm, hm + 8, y, MAG, lw=1.6)
    ftext(tm, y, 'Status quo w/ mandate', color=MAG, fontsize=8.2, **lf)

# ---------- captions ----------
cf = dict(fontsize=17, family='Liberation Serif', color='black', va='center')
ftext(6, 252, '(a) Mitigation and resilience spend-', ha='left', **cf)
ftext(6, 280, 'ing', ha='left', **cf)
ftext(523, 252, '(b) Climate risk', ha='center', **cf)
ftext(881, 252, '(c) Market total wealth', ha='center', **cf)
ftext(163, 579, '(d) Mitigation spending', ha='center', **cf)
ftext(521, 579, '(e) Climate risk', ha='center', **cf)
ftext(880, 579, '(f) Market total wealth', ha='center', **cf)
ftext(163, 890, '(g) Mitigation spending', ha='center', **cf)
ftext(521, 890, '(h) Climate risk', ha='center', **cf)
ftext(880, 890, '(i) Market total wealth', ha='center', **cf)

fig.savefig('out.png', dpi=100, facecolor='white')
